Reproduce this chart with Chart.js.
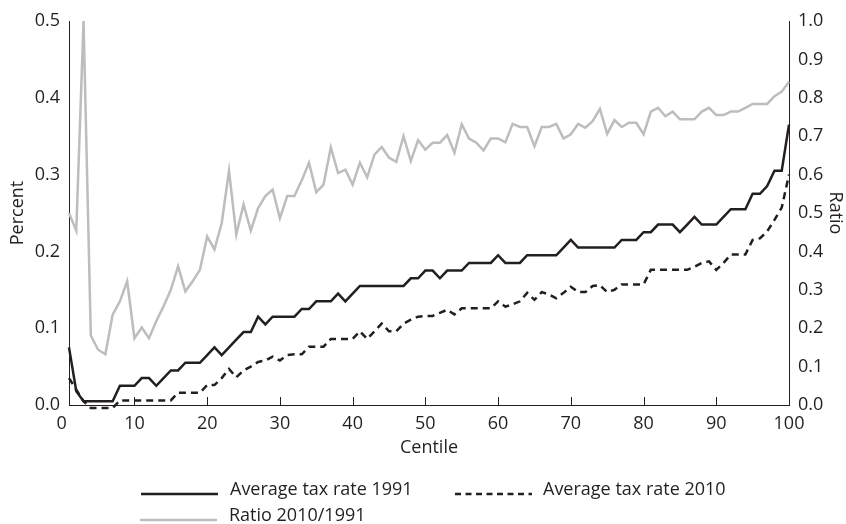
<!DOCTYPE html>
<html>
<head>
<meta charset="utf-8">
<script src="https://cdn.jsdelivr.net/npm/chart.js@4.4.1/dist/chart.umd.min.js"></script>
<style>
  html, body { margin: 0; padding: 0; background: #fff; }
  #wrap { position: relative; width: 846px; height: 524px; overflow: hidden; }
  #c { position: absolute; left: 0; top: 0; }
  .key { position: absolute; }
  .keytext { position: absolute; font-family: "Open Sans", sans-serif; font-size: 18px; line-height: 22px; color: #231f20; white-space: nowrap; }
</style>
</head>
<body>
<div id="wrap">
  <canvas id="c" width="846" height="524"></canvas>
  <div id="legend"></div>
</div>
<script>
// Centiles of the income distribution
const centiles = [
  1, 2, 3, 4, 5, 6, 7, 8, 9, 10,
  11, 12, 13, 14, 15, 16, 17, 18, 19, 20,
  21, 22, 23, 24, 25, 26, 27, 28, 29, 30,
  31, 32, 33, 34, 35, 36, 37, 38, 39, 40,
  41, 42, 43, 44, 45, 46, 47, 48, 49, 50,
  51, 52, 53, 54, 55, 56, 57, 58, 59, 60,
  61, 62, 63, 64, 65, 66, 67, 68, 69, 70,
  71, 72, 73, 74, 75, 76, 77, 78, 79, 80,
  81, 82, 83, 84, 85, 86, 87, 88, 89, 90,
  91, 92, 93, 94, 95, 96, 97, 98, 99, 100
];

// Average tax rate by centile, 1991 (left axis)
const rate1991 = [
  0.075, 0.018, 0.005, 0.005, 0.005, 0.005, 0.005, 0.025, 0.025, 0.025,
  0.035, 0.035, 0.025, 0.035, 0.045, 0.045, 0.055, 0.055, 0.055, 0.065,
  0.075, 0.065, 0.075, 0.085, 0.095, 0.095, 0.115, 0.105, 0.115, 0.115,
  0.115, 0.115, 0.125, 0.125, 0.135, 0.135, 0.135, 0.145, 0.135, 0.145,
  0.155, 0.155, 0.155, 0.155, 0.155, 0.155, 0.155, 0.165, 0.165, 0.175,
  0.175, 0.165, 0.175, 0.175, 0.175, 0.185, 0.185, 0.185, 0.185, 0.195,
  0.185, 0.185, 0.185, 0.195, 0.195, 0.195, 0.195, 0.195, 0.205, 0.215,
  0.205, 0.205, 0.205, 0.205, 0.205, 0.205, 0.215, 0.215, 0.215, 0.225,
  0.225, 0.235, 0.235, 0.235, 0.225, 0.235, 0.245, 0.235, 0.235, 0.235,
  0.245, 0.255, 0.255, 0.255, 0.275, 0.275, 0.285, 0.305, 0.305, 0.365
];

// Average tax rate by centile, 2010 (left axis)
const rate2010 = [
  0.035, 0.020, 0.005, -0.004, -0.004, -0.004, -0.004, 0.006, 0.006, 0.006,
  0.006, 0.006, 0.006, 0.006, 0.006, 0.016, 0.016, 0.016, 0.016, 0.026,
  0.026, 0.035, 0.047, 0.036, 0.045, 0.050, 0.056, 0.058, 0.063, 0.058,
  0.065, 0.066, 0.066, 0.076, 0.076, 0.076, 0.086, 0.086, 0.086, 0.086,
  0.096, 0.086, 0.096, 0.106, 0.096, 0.096, 0.106, 0.111, 0.115, 0.116,
  0.116, 0.120, 0.124, 0.118, 0.126, 0.126, 0.126, 0.126, 0.126, 0.135,
  0.128, 0.131, 0.135, 0.146, 0.137, 0.147, 0.144, 0.139, 0.146, 0.154,
  0.147, 0.147, 0.155, 0.156, 0.147, 0.150, 0.157, 0.157, 0.157, 0.157,
  0.176, 0.176, 0.176, 0.176, 0.176, 0.176, 0.180, 0.185, 0.187, 0.176,
  0.185, 0.196, 0.196, 0.196, 0.215, 0.217, 0.226, 0.241, 0.257, 0.300
];

// Ratio of the 2010 rate to the 1991 rate (right axis)
const ratio = [
  0.500, 0.454, 1.000, 0.181, 0.144, 0.132, 0.235, 0.270, 0.322, 0.174,
  0.202, 0.174, 0.218, 0.257, 0.300, 0.361, 0.296, 0.322, 0.352, 0.439,
  0.405, 0.474, 0.610, 0.444, 0.522, 0.454, 0.513, 0.544, 0.561, 0.486,
  0.544, 0.544, 0.585, 0.631, 0.554, 0.574, 0.671, 0.604, 0.613, 0.574,
  0.631, 0.593, 0.652, 0.672, 0.644, 0.633, 0.700, 0.635, 0.690, 0.665,
  0.683, 0.683, 0.703, 0.657, 0.731, 0.694, 0.683, 0.663, 0.694, 0.694,
  0.684, 0.732, 0.724, 0.724, 0.674, 0.724, 0.724, 0.732, 0.694, 0.705,
  0.732, 0.722, 0.739, 0.771, 0.706, 0.742, 0.724, 0.735, 0.735, 0.705,
  0.764, 0.774, 0.752, 0.764, 0.744, 0.744, 0.744, 0.764, 0.774, 0.755,
  0.755, 0.764, 0.764, 0.774, 0.784, 0.784, 0.784, 0.804, 0.816, 0.842
];

const xTicks = [0, 10, 20, 30, 40, 50, 60, 70, 80, 90, 100];
const percentTicks = [0, 0.1, 0.2, 0.3, 0.4, 0.5];
const ratioTicks = [0, 0.1, 0.2, 0.3, 0.4, 0.5, 0.6, 0.7, 0.8, 0.9, 1.0];
const seriesNames = ['Average tax rate 1991', 'Average tax rate 2010', 'Ratio 2010/1991'];

const INK = '#231f20';
const GREY = '#bdbdbd';
const FONT = { family: '"Open Sans", sans-serif', size: 18 };
const DASH = [7, 5];

const toPoints = (vals) => vals.map((v, i) => ({ x: centiles[i], y: v }));
const setTicks = (vals) => (scale) => { scale.ticks = vals.map((v) => ({ value: v })); };

// short tick marks pointing up into the plot from the centile axis
const innerTicks = {
  id: 'innerTicks',
  afterDatasetsDraw(chart) {
    const xs = chart.scales.x;
    const { ctx, chartArea } = chart;
    ctx.save();
    ctx.strokeStyle = INK;
    ctx.lineWidth = 1;
    xTicks.forEach((v) => {
      if (v <= xs.min || v >= xs.max) return;
      const px = Math.round(xs.getPixelForValue(v)) + 0.5;
      ctx.beginPath();
      ctx.moveTo(px, chartArea.bottom);
      ctx.lineTo(px, chartArea.bottom - 8);
      ctx.stroke();
    });
    ctx.restore();
  }
};

const lineStyle = { pointRadius: 0, pointHoverRadius: 0, tension: 0, borderWidth: 2.5, fill: false, clip: 12 };

new Chart(document.getElementById('c').getContext('2d'), {
  type: 'line',
  data: {
    datasets: [
      Object.assign({ label: seriesNames[2], data: toPoints(ratio), yAxisID: 'yR', borderColor: GREY }, lineStyle),
      Object.assign({ label: seriesNames[0], data: toPoints(rate1991), yAxisID: 'yL', borderColor: INK }, lineStyle),
      Object.assign({ label: seriesNames[1], data: toPoints(rate2010), yAxisID: 'yL', borderColor: INK, borderDash: DASH }, lineStyle)
    ]
  },
  options: {
    responsive: false,
    animation: false,
    devicePixelRatio: 1,
    layout: { padding: { top: 21, bottom: 59, left: 0, right: 0 } },
    plugins: { legend: { display: false }, tooltip: { enabled: false } },
    scales: {
      x: {
        type: 'linear', min: 1, max: 100,
        afterBuildTicks: setTicks(xTicks),
        afterFit: (s) => { s.height = 60; },
        ticks: { font: FONT, color: INK, padding: 8, autoSkip: false, maxRotation: 0 },
        grid: { display: true, drawOnChartArea: false, drawTicks: false },
        border: { display: true, color: INK, width: 1 },
        title: { display: true, text: 'Centile', font: FONT, color: INK, padding: { top: 0, bottom: 6 } }
      },
      yL: {
        position: 'left', min: 0, max: 0.5,
        afterBuildTicks: setTicks(percentTicks),
        afterFit: (s) => { s.width = 69; },
        ticks: { font: FONT, color: INK, padding: 9, callback: (v) => v.toFixed(1) },
        grid: { display: true, drawOnChartArea: false, drawTicks: false },
        border: { display: true, color: INK, width: 1 },
        title: { display: true, text: 'Percent', font: FONT, color: INK, padding: { top: 7, bottom: 0 } }
      },
      yR: {
        position: 'right', min: 0, max: 1,
        afterBuildTicks: setTicks(ratioTicks),
        afterFit: (s) => { s.width = 57; },
        ticks: { font: FONT, color: INK, padding: 9, callback: (v) => v.toFixed(1) },
        grid: { display: true, drawOnChartArea: false, drawTicks: false },
        border: { display: true, color: INK, width: 1 },
        title: { display: true, text: 'Ratio', font: FONT, color: INK, padding: { top: 0, bottom: 0 } }
      }
    }
  },
  plugins: [innerTicks]
});

// legend below the chart, built from the series names
const legendItems = [
  { name: seriesNames[0], color: INK, dash: null, lineX: 141, lineY: 494, textX: 230, textY: 477 },
  { name: seriesNames[1], color: INK, dash: '6 4.5', lineX: 455, lineY: 494, textX: 543, textY: 477 },
  { name: seriesNames[2], color: GREY, dash: null, lineX: 140, lineY: 520, textX: 229, textY: 503 }
];
const legendBox = document.getElementById('legend');
legendItems.forEach((it) => {
  const ns = 'http://www.w3.org/2000/svg';
  const svg = document.createElementNS(ns, 'svg');
  svg.setAttribute('class', 'key');
  svg.setAttribute('width', '77');
  svg.setAttribute('height', '6');
  svg.style.left = it.lineX + 'px';
  svg.style.top = (it.lineY - 3) + 'px';
  const ln = document.createElementNS(ns, 'line');
  ln.setAttribute('x1', '0'); ln.setAttribute('y1', '3');
  ln.setAttribute('x2', '77'); ln.setAttribute('y2', '3');
  ln.setAttribute('stroke', it.color);
  ln.setAttribute('stroke-width', '2.5');
  if (it.dash) ln.setAttribute('stroke-dasharray', it.dash);
  svg.appendChild(ln);
  legendBox.appendChild(svg);
  const t = document.createElement('div');
  t.className = 'keytext';
  t.style.left = it.textX + 'px';
  t.style.top = it.textY + 'px';
  t.textContent = it.name;
  legendBox.appendChild(t);
});
</script>
</body>
</html>
